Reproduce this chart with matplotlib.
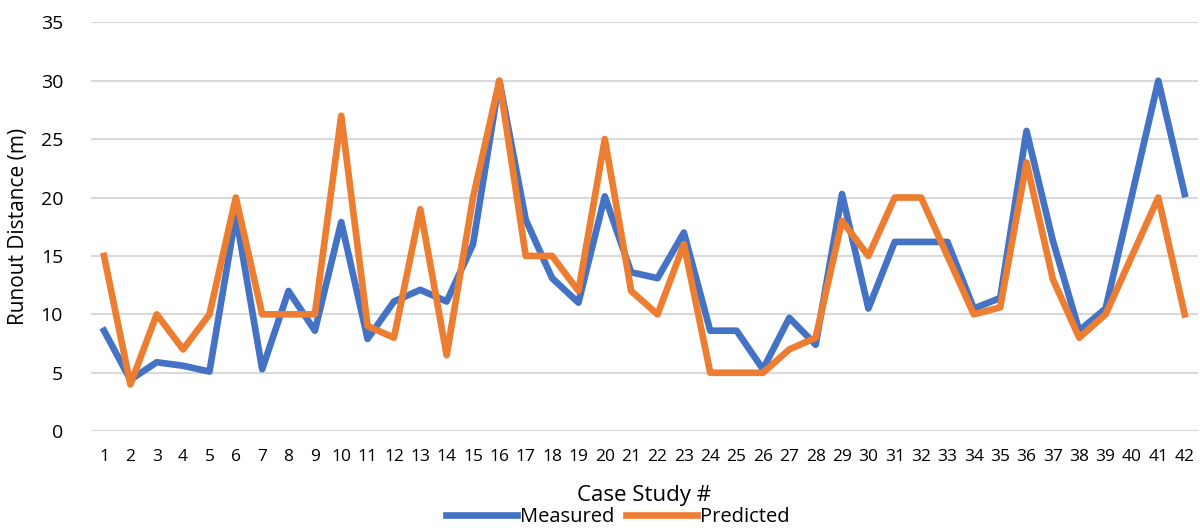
import numpy as np
import matplotlib.pyplot as plt

plt.rcParams['font.family'] = ['Open Sans', 'DejaVu Sans']

cases = list(range(1, 43))
measured = [8.6, 4.4, 5.9, 5.6, 5.1, 18.5, 5.3, 12.0, 8.6, 17.9,
            7.9, 11.1, 12.1, 11.1, 16.0, 30.0, 18.1, 13.1, 11.0, 20.1,
            13.6, 13.1, 17.0, 8.6, 8.6, 5.3, 9.7, 7.4, 20.3, 10.5,
            16.2, 16.2, 16.2, 10.5, 11.4, 25.7, 16.3, 8.6, 10.5, 20.2,
            30.0, 20.3]
predicted = [15, 4, 10, 7, 10, 20, 10, 10, 10, 27,
             9, 8, 19, 6.5, 20, 30, 15, 15, 12, 25,
             12, 10, 16, 5, 5, 5, 7, 8, 18, 15,
             20, 20, 15, 10, 10.6, 23, 13, 8, 10, 15,
             20, 10]

fig = plt.figure(figsize=(12, 5.31), dpi=100)
ax = fig.add_axes([0.0757, 0.188, 0.9225, 0.77])

ax.plot(cases, measured, color='#4472C4', lw=4.8, label='Measured', solid_joinstyle='round')
ax.plot(cases, predicted, color='#ED7D31', lw=4.8, label='Predicted', solid_joinstyle='round')

ax.set_xlim(0.5, 42.5)
ax.set_ylim(0, 35)
ax.set_yticks(np.arange(0, 36, 5))
ax.set_xticks(cases)
ax.set_xticklabels([str(c) for c in cases])
ax.grid(axis='y', color='#D9D9D9', lw=1.5)
ax.set_axisbelow(True)
for s in ax.spines.values():
    s.set_visible(False)
ax.tick_params(length=0, colors='#000000')
ax.tick_params(axis='x', pad=13, labelsize=12.5)
ax.tick_params(axis='y', pad=20, labelsize=14)

ax.set_ylabel('Runout Distance (m)', fontsize=15, labelpad=8)
ax.set_xlabel('Case Study #', fontsize=16, labelpad=14)

fig.legend(loc='lower center', bbox_to_anchor=(0.515, -0.022), ncol=2, frameon=False,
           fontsize=14.5, handlelength=3.5, columnspacing=0.6, handletextpad=0.15,
           borderpad=0.3)

fig.savefig('out.png', dpi=100)
